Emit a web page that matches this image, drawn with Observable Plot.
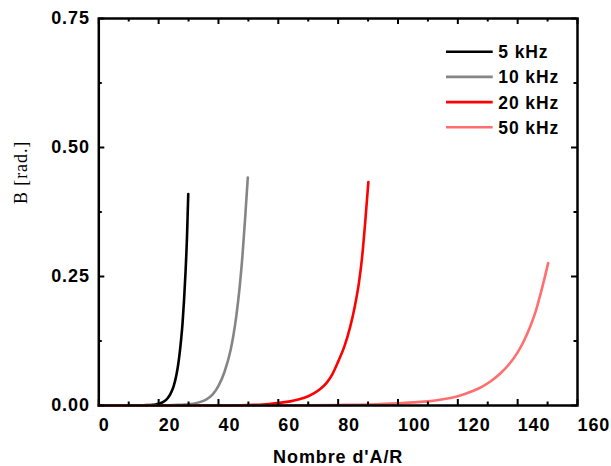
<!DOCTYPE html>
<html><head><meta charset="utf-8">
<script src="https://cdn.jsdelivr.net/npm/d3@7"></script>
<script src="https://cdn.jsdelivr.net/npm/@observablehq/plot@0.6"></script>
<style>
body{margin:0;background:#fff;}
#chart svg{display:block;}
</style></head><body><div id="chart"></div>
<script>
// ---- data ----
const seriesNames = ["5 kHz", "10 kHz", "20 kHz", "50 kHz"];
const seriesColors = ["#000000", "#858585", "#ff0000", "#ff6f6f"];

const x5k  = [0, 10, 15, 17, 18, 19, 20, 21, 22, 23, 24, 25, 26, 26.5, 27, 27.5, 28, 28.5, 29, 29.5, 29.9];
const y5k  = [0, 0, 0.0005, 0.001, 0.0012, 0.002, 0.0033, 0.0054, 0.0087, 0.014, 0.023, 0.037, 0.061, 0.078, 0.1, 0.127, 0.16, 0.205, 0.26, 0.33, 0.41];

const x10k = [0, 20, 25, 28, 30, 32, 34, 36, 38, 40, 42, 44, 45, 46, 47, 48, 49, 49.8];
const y10k = [0, 0, 0.001, 0.0015, 0.0022, 0.004, 0.007, 0.012, 0.021, 0.038, 0.065, 0.106, 0.136, 0.175, 0.225, 0.289, 0.371, 0.442];

const x20k = [0, 40, 50, 55, 60, 64, 67, 70, 72, 74, 76, 78, 80, 82, 84, 85.5, 87, 88, 89, 90.1];
const y20k = [0, 0, 0.001, 0.002, 0.005, 0.008, 0.012, 0.018, 0.024, 0.032, 0.043, 0.06, 0.085, 0.113, 0.152, 0.19, 0.24, 0.287, 0.352, 0.433];

const x50k = [0, 60, 80, 90, 100, 105, 110, 115, 120, 125, 128, 131, 134, 137, 140, 142, 144, 146, 148, 150.2];
const y50k = [0, 0, 0.001, 0.002, 0.0042, 0.006, 0.008, 0.012, 0.018, 0.028, 0.036, 0.047, 0.061, 0.079, 0.103, 0.124, 0.15, 0.182, 0.224, 0.276];

const xMajorTicks = [0, 20, 40, 60, 80, 100, 120, 140, 160];
const xMinorTicks = [10, 30, 50, 70, 90, 110, 130, 150];
const yMajorTicks = [0, 0.25, 0.5, 0.75];
const yMinorTicks = [0.125, 0.375, 0.625];
const xLabel = "Nombre d'A/R";
const yLabel = "B [rad.]";

// ---- build table ----
const seriesX = [x5k, x10k, x20k, x50k];
const seriesY = [y5k, y10k, y20k, y50k];
const rows = [];
seriesX.forEach((xs, i) => xs.forEach((x, j) => rows.push({series: seriesNames[i], x, y: seriesY[i][j]})));

// ---- layout ----
const W = 611, H = 466, mL = 98.3, mR = 34, mT = 18, mB = 61;
const innerW = W - mL - mR, innerH = H - mT - mB;
const sans = "'Liberation Sans', Arial, sans-serif";
const serif = "'Liberation Serif', 'Times New Roman', serif";

const legendMark = (index, scales, values, dims) => {
  const g = d3.create("svg:g");
  const x0 = dims.width - dims.marginRight - 131;
  seriesNames.forEach((name, i) => {
    const y = dims.marginTop + 33.7 + i * 25.2;
    g.append("line").attr("x1", x0).attr("x2", x0 + 46.7).attr("y1", y).attr("y2", y)
      .attr("stroke", seriesColors[i]).attr("stroke-width", 2.6);
    g.append("text").attr("x", x0 + 52.3).attr("y", y).attr("dy", "0.37em")
      .attr("text-anchor", "start")
      .attr("font-family", sans).attr("font-weight", "bold").attr("font-size", 17.5)
      .attr("fill", "black").text(name);
  });
  return g.node();
};

const chart = Plot.plot({
  width: W, height: H,
  marginLeft: mL, marginRight: mR, marginTop: mT, marginBottom: mB,
  style: {fontFamily: sans, background: "white"},
  x: {domain: [0, 160], axis: null},
  y: {domain: [0, 0.75], axis: null},
  color: {domain: seriesNames, range: seriesColors},
  marks: [
    Plot.line(rows, {x: "x", y: "y", z: "series", stroke: "series", strokeWidth: 2.6, curve: "monotone-x"}),
    // inward ticks, bottom & top
    Plot.tickX(xMajorTicks, {x: d => d, insetTop: innerH - 6, strokeWidth: 2, stroke: "black"}),
    Plot.tickX(xMajorTicks, {x: d => d, insetBottom: innerH - 6, strokeWidth: 2, stroke: "black"}),
    Plot.tickX(xMinorTicks, {x: d => d, insetTop: innerH - 3.5, strokeWidth: 2, stroke: "black"}),
    Plot.tickX(xMinorTicks, {x: d => d, insetBottom: innerH - 3.5, strokeWidth: 2, stroke: "black"}),
    // inward ticks, left & right
    Plot.tickY(yMajorTicks, {y: d => d, insetRight: innerW - 6, strokeWidth: 2, stroke: "black"}),
    Plot.tickY(yMajorTicks, {y: d => d, insetLeft: innerW - 6, strokeWidth: 2, stroke: "black"}),
    Plot.tickY(yMinorTicks, {y: d => d, insetRight: innerW - 3.5, strokeWidth: 2, stroke: "black"}),
    Plot.tickY(yMinorTicks, {y: d => d, insetLeft: innerW - 3.5, strokeWidth: 2, stroke: "black"}),
    Plot.frame({stroke: "black", strokeWidth: 2.5}),
    Plot.axisX(xMajorTicks, {tickSize: 0, tickPadding: 13, textAnchor: "start", fontSize: 18, fontWeight: "bold", label: null}),
    Plot.axisY(yMajorTicks, {tickSize: 0, tickPadding: 9, tickFormat: d3.format(".2f"), fontSize: 18, fontWeight: "bold", label: null}),
    Plot.text([xLabel], {frameAnchor: "bottom", lineAnchor: "bottom", dy: 57.7, fontSize: 18, fontWeight: "bold", fill: "black"}),
    Plot.text([yLabel], {frameAnchor: "left", rotate: -90, lineAnchor: "bottom", dx: -71.6, dy: -8, fontSize: 18, fontFamily: serif, fill: "black"}),
    legendMark
  ]
});
chart.querySelectorAll("text").forEach(t => { t.style.letterSpacing = "0.9px"; });
document.getElementById("chart").appendChild(chart);
</script>
</body></html>
